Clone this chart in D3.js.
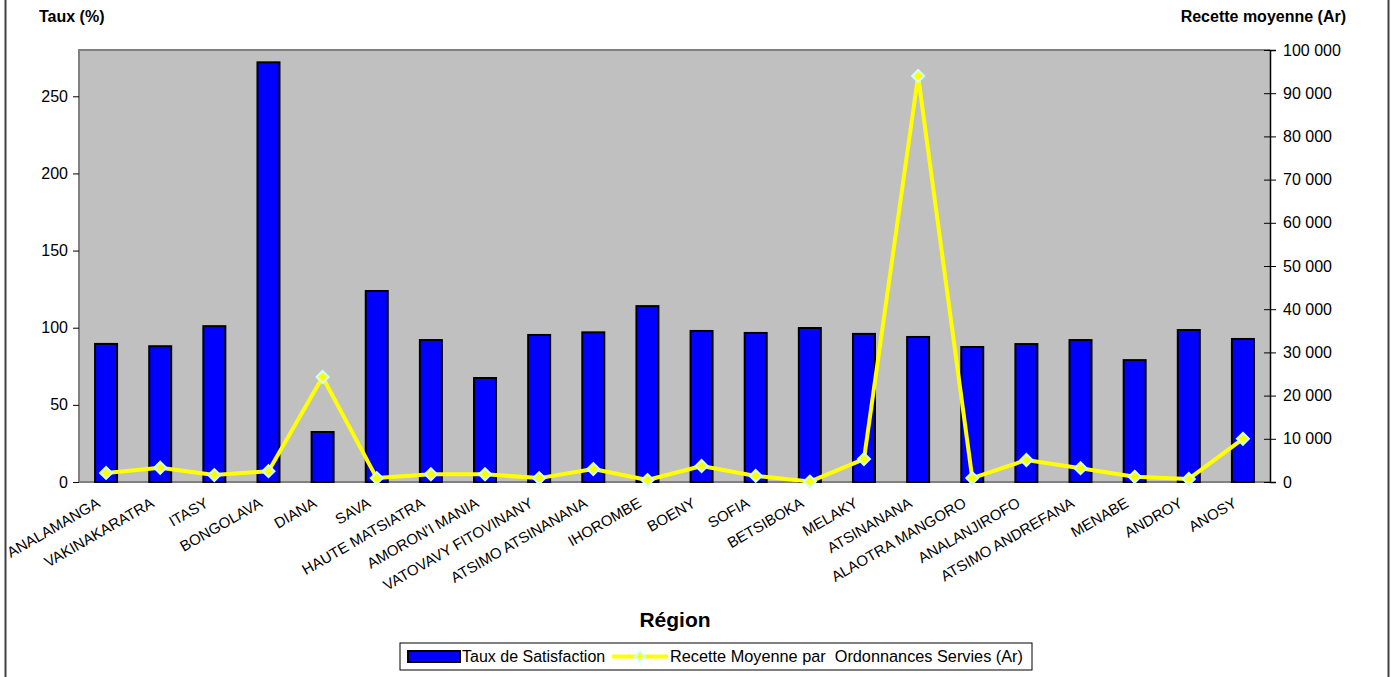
<!DOCTYPE html>
<html>
<head>
<meta charset="utf-8">
<script src="https://cdn.jsdelivr.net/npm/d3@7"></script>
<style>
  body { margin: 0; background: #fff; }
  svg { font-family: "Liberation Sans", Arial, sans-serif; }
</style>
</head>
<body>
<div id="chart"></div>
<script>
const regions = ["ANALAMANGA", "VAKINAKARATRA", "ITASY", "BONGOLAVA", "DIANA", "SAVA",
  "HAUTE MATSIATRA", "AMORON'I MANIA", "VATOVAVY FITOVINANY", "ATSIMO ATSINANANA",
  "IHOROMBE", "BOENY", "SOFIA", "BETSIBOKA", "MELAKY", "ATSINANANA", "ALAOTRA MANGORO",
  "ANALANJIROFO", "ATSIMO ANDREFANA", "MENABE", "ANDROY", "ANOSY"];
const taux = [89.5, 88, 101, 272, 32.4, 123.8, 92, 67.4, 95.3, 97, 114, 97.9, 96.6,
  99.8, 96, 94, 87.5, 89.4, 92, 79, 98.5, 92.7];
const recette = [2100, 3300, 1600, 2500, 24300, 900, 1800, 1800, 900, 3000, 450, 3700,
  1400, 100, 5300, 94000, 900, 5100, 3200, 1200, 700, 10000];
const leftTicks = [0, 50, 100, 150, 200, 250];
const rightTicks = d3.range(0, 100001, 10000);

const W = 1396, H = 677;
const margin = { top: 50, right: 126, bottom: 195, left: 79 },
  width = W - margin.left - margin.right,
  height = H - margin.top - margin.bottom;

const root = d3.select("#chart").append("svg")
  .attr("width", W)
  .attr("height", H);

// outer chart frame (only left/right sides visible)
root.append("line").attr("x1", 5.5).attr("x2", 5.5).attr("y1", 0).attr("y2", H)
  .attr("stroke", "#404040").attr("stroke-width", 2);
root.append("line").attr("x1", 1388.5).attr("x2", 1388.5).attr("y1", 0).attr("y2", H)
  .attr("stroke", "#404040").attr("stroke-width", 2);

const svg = root.append("g")
  .attr("transform", `translate(${margin.left},${margin.top})`);

const x = d3.scaleBand().domain(regions).range([0, width]).paddingInner(0).paddingOuter(0);
const yL = d3.scaleLinear().domain([0, 280]).range([height, 0]);
const yR = d3.scaleLinear().domain([0, 100000]).range([height, 0]);

// plot background
svg.append("rect")
  .attr("width", width).attr("height", height)
  .attr("fill", "#c0c0c0");
svg.append("path")
  .attr("d", `M0,${height}V0H${width}`)
  .attr("fill", "none").attr("stroke", "#808080").attr("stroke-width", 2);
svg.append("line")
  .attr("x1", 0).attr("x2", width).attr("y1", height).attr("y2", height)
  .attr("stroke", "#808080").attr("stroke-width", 2);

// left axis
const axL = svg.append("g")
  .call(d3.axisLeft(yL).tickValues(leftTicks).tickSize(6).tickPadding(5));
axL.select(".domain").remove();
axL.selectAll("line").attr("stroke", "#000");
axL.selectAll("text").style("font-size", "16px").attr("fill", "#000");

// right axis
const axR = svg.append("g")
  .attr("transform", `translate(${width},0)`)
  .call(d3.axisRight(yR).tickValues(rightTicks).tickSize(6).tickPadding(7)
    .tickFormat(d => d3.format(",")(d).replace(/,/g, " ")));
axR.select(".domain").attr("stroke", "#000").attr("stroke-width", 1.5);
axR.selectAll("line").attr("stroke", "#000").attr("x1", -6);
axR.selectAll("text").style("font-size", "16px").attr("fill", "#000");

// bars
const barW = 22;
svg.selectAll("rect.bar")
  .data(regions)
  .join("rect")
  .attr("class", "bar")
  .attr("x", d => x(d) + x.bandwidth() / 2 - barW / 2)
  .attr("y", (d, i) => yL(taux[i]))
  .attr("width", barW)
  .attr("height", (d, i) => height - yL(taux[i]))
  .attr("fill", "#0000ff")
  .attr("stroke", "#000")
  .attr("stroke-width", 2);

// line
const line = d3.line()
  .x((d, i) => x(regions[i]) + x.bandwidth() / 2)
  .y(d => yR(d));
svg.append("path")
  .datum(recette)
  .attr("d", line)
  .attr("fill", "none")
  .attr("stroke", "#ffff00")
  .attr("stroke-width", 4)
  .attr("stroke-linejoin", "round");

const diamond = s => `M0,${-s}L${s},0L0,${s}L${-s},0Z`;
svg.selectAll("path.mk")
  .data(recette)
  .join("path")
  .attr("class", "mk")
  .attr("transform", (d, i) => `translate(${x(regions[i]) + x.bandwidth() / 2},${yR(d)})`)
  .attr("d", diamond(6))
  .attr("fill", "#ffff00")
  .attr("stroke", "#ccffff")
  .attr("stroke-width", 2);

// x labels
svg.selectAll("text.xl")
  .data(regions)
  .join("text")
  .attr("class", "xl")
  .attr("transform", d => `translate(${x(d) + x.bandwidth() / 2 - 5},${height + 24}) rotate(-30)`)
  .attr("text-anchor", "end")
  .style("font-size", "15px")
  .attr("fill", "#000")
  .text(d => d);

// axis titles
root.append("text")
  .attr("x", 39).attr("y", 22)
  .style("font-size", "16px").style("font-weight", "bold")
  .text("Taux (%)");
root.append("text")
  .attr("x", 1346).attr("y", 22)
  .attr("text-anchor", "end")
  .style("font-size", "16px").style("font-weight", "bold")
  .text("Recette moyenne (Ar)");
root.append("text")
  .attr("x", 675).attr("y", 627)
  .attr("text-anchor", "middle")
  .style("font-size", "21px").style("font-weight", "bold")
  .text("Région");

// legend
const lg = root.append("g").attr("transform", "translate(400,643)");
lg.append("rect").attr("width", 632).attr("height", 27)
  .attr("fill", "#fff").attr("stroke", "#000").attr("stroke-width", 1);
lg.append("rect").attr("x", 8).attr("y", 8).attr("width", 52).attr("height", 11)
  .attr("fill", "#0000ff").attr("stroke", "#000").attr("stroke-width", 2);
lg.append("text").attr("x", 62).attr("y", 19).style("font-size", "16px")
  .text("Taux de Satisfaction");
lg.append("line").attr("x1", 212).attr("x2", 268).attr("y1", 13.5).attr("y2", 13.5)
  .attr("stroke", "#ffff00").attr("stroke-width", 4);
lg.append("path").attr("transform", "translate(240,13.5)").attr("d", diamond(5))
  .attr("fill", "#ffff00").attr("stroke", "#ccffff").attr("stroke-width", 2);
lg.append("text").attr("x", 270).attr("y", 19).style("font-size", "16.3px")
  .style("white-space", "pre")
  .text("Recette Moyenne par  Ordonnances Servies (Ar)");
</script>
</body>
</html>
